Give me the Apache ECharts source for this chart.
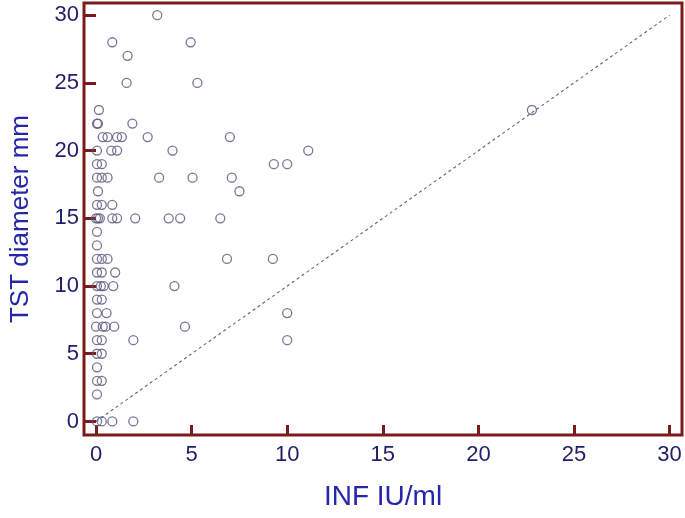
<!DOCTYPE html>
<html>
<head>
<meta charset="utf-8">
<script src="https://cdn.jsdelivr.net/npm/echarts@6/dist/echarts.min.js"></script>
<style>html,body{margin:0;padding:0;background:#fff}#c{width:685px;height:518px}</style>
</head>
<body>
<div id="c"></div>
<script>
// Data: [INF IU/ml, TST diameter mm]
const points = [
  [3.2,30],
  [0.85,28],[4.95,28],
  [1.65,27],
  [1.6,25],[5.3,25],
  [0.15,23],[22.8,23],
  [0.05,22],[0.1,22],[1.9,22],
  [0.35,21],[0.6,21],[1.1,21],[1.35,21],[2.7,21],[7.0,21],
  [0.05,20],[0.8,20],[1.1,20],[4.0,20],[11.1,20],
  [0.05,19],[0.3,19],[9.3,19],[10.0,19],
  [0.05,18],[0.3,18],[0.6,18],[3.3,18],[5.05,18],[7.1,18],
  [0.1,17],[7.5,17],
  [0.05,16],[0.3,16],[0.85,16],
  [0.0,15],[0.1,15],[0.2,15],[0.85,15],[1.1,15],[2.05,15],[3.8,15],[4.4,15],[6.5,15],
  [0.05,14],
  [0.05,13],
  [0.05,12],[0.3,12],[0.6,12],[6.85,12],[9.25,12],
  [0.05,11],[0.3,11],[1.0,11],
  [0.05,10],[0.25,10],[0.4,10],[0.9,10],[4.1,10],
  [0.05,9],[0.3,9],
  [0.05,8],[0.55,8],[10.0,8],
  [0.0,7],[0.35,7],[0.5,7],[0.95,7],[4.65,7],
  [0.05,6],[0.3,6],[1.95,6],[10.0,6],
  [0.05,5],[0.3,5],
  [0.05,4],
  [0.05,3],[0.3,3],
  [0.05,2],
  [0.05,0],[0.3,0],[0.85,0],[1.95,0]
];
const identityLine = [[0,0],[30,30]];
const xTicks = [0,5,10,15,20,25,30];
const yTicks = [0,5,10,15,20,25,30];
const xTitle = 'INF IU/ml';
const yTitle = 'TST diameter mm';

const frame = '#7a1c1c';
const tickTxt = '#1e1e6a';
const titleCol = '#2626a8';
const chart = echarts.init(document.getElementById('c'), null, {renderer:'canvas'});
chart.setOption({
  animation:false,
  backgroundColor:'#fff',
  grid:{left:84,right:3,top:3,bottom:83,show:true,borderColor:frame,borderWidth:3,backgroundColor:'transparent'},
  xAxis:{
    type:'value', min:-0.63, max:30.65,
    name:xTitle, nameLocation:'middle', nameGap:48,
    nameTextStyle:{color:titleCol,fontSize:28,fontFamily:'Liberation Sans, Arial, sans-serif'},
    axisLine:{show:false,onZero:false},
    splitLine:{show:false},
    axisTick:{show:true,inside:true,length:10,lineStyle:{color:frame,width:3},customValues:xTicks},
    axisLabel:{color:tickTxt,fontSize:22,margin:9,fontFamily:'Liberation Sans, sans-serif',customValues:xTicks}
  },
  yAxis:{
    type:'value', min:-1, max:30.9,
    name:yTitle, nameLocation:'middle', nameGap:50,
    nameTextStyle:{color:titleCol,fontSize:26,fontFamily:'Liberation Sans, Arial, sans-serif'},
    axisLine:{show:false,onZero:false},
    splitLine:{show:false},
    axisTick:{show:true,inside:true,length:12,lineStyle:{color:frame,width:3},customValues:yTicks},
    axisLabel:{color:tickTxt,fontSize:22,margin:5,fontFamily:'Liberation Sans, sans-serif',customValues:yTicks}
  },
  series:[
    {type:'line',data:identityLine,symbol:'none',silent:true,
     lineStyle:{color:'#666',width:1.1,type:[3,3]},z:1},
    {type:'scatter',data:points,symbol:'circle',symbolSize:9,
     itemStyle:{color:'rgba(255,255,255,0)',borderColor:'#55557a',borderWidth:1.3},z:2}
  ]
});
</script>
</body>
</html>
